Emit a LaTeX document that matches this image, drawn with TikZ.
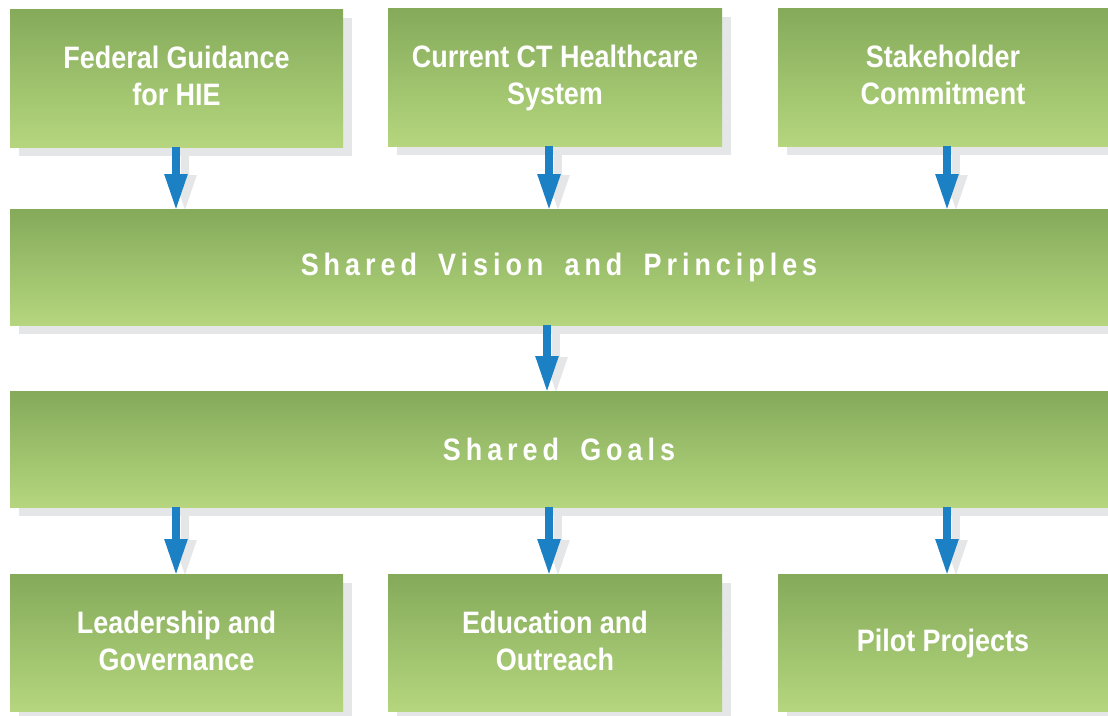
\documentclass[tikz,border=0pt]{standalone}
\usepackage{fontspec}
\setmainfont{Liberation Sans}[FakeStretch=0.87]
\newfontfamily\spacedfont{Liberation Sans}[FakeStretch=0.87,LetterSpace=16,WordSpace=1.7]
\usetikzlibrary{arrows.meta,shadows,backgrounds}
\definecolor{boxtop}{HTML}{84AA5A}
\definecolor{boxbottom}{HTML}{B5D67E}
\definecolor{shadowgray}{HTML}{E5E6E8}
\definecolor{arrowblue}{HTML}{1B80C4}
\tikzset{
  box/.style={rectangle, inner sep=0pt, outer sep=0pt, top color=boxtop, bottom color=boxbottom,
    text=white, align=center, font=\bfseries\fontsize{31}{37}\selectfont,
    drop shadow={shadow xshift=9pt, shadow yshift=-9pt, fill=shadowgray, opacity=1}},
  smallbox/.style={box, minimum width=333pt, minimum height=138pt, text depth=4pt},
  widebox/.style={box, minimum width=1098pt, minimum height=116pt,
    font=\spacedfont\bfseries\fontsize{31}{36}\selectfont},
  flow/.style={line width=8pt, -{Triangle[length=37pt,width=21pt]}},
  flowarrow/.style={flow, arrowblue},
  flowshadow/.style={flow, shadowgray}
}
\begin{document}
\begin{tikzpicture}[x=1pt,y=-1pt]
  \useasboundingbox (0,0) rectangle (1108,715);
  \draw
    (176.5,78) node[smallbox] (fed) {Federal Guidance\\for HIE}
    (555,77) node[smallbox, minimum width=334pt] (cur) {Current CT Healthcare\\System}
    (943,77) node[smallbox, minimum width=330pt] (stake) {Stakeholder\\Commitment}
    (559,267) node[widebox] (vision) {Shared Vision and Principles}
    (559,449) node[widebox] (goals) {Shared Goals}
    (176.5,642.5) node[smallbox, minimum height=137pt] (lead) {Leadership and\\Governance}
    (555,642.5) node[smallbox, minimum width=334pt, minimum height=137pt] (edu) {Education and\\Outreach}
    (943,642.5) node[smallbox, minimum width=330pt, minimum height=137pt] (pilot) {Pilot Projects};
  \begin{scope}[on background layer]
    \draw[flowshadow] ([xshift=9pt]fed.south -| 176,0) to ([shift={(9pt,-3pt)}]vision.north -| 176,0);
    \draw[flowshadow] ([xshift=9pt]cur.south -| 549,0) to ([shift={(9pt,-3pt)}]vision.north -| 549,0);
    \draw[flowshadow] ([xshift=9pt]stake.south -| 947,0) to ([shift={(9pt,-3pt)}]vision.north -| 947,0);
    \draw[flowshadow] ([xshift=9pt]vision.south -| 547,0) to ([shift={(9pt,-3pt)}]goals.north -| 547,0);
    \draw[flowshadow] ([xshift=9pt]goals.south -| 176,0) to ([shift={(9pt,-3pt)}]lead.north -| 176,0);
    \draw[flowshadow] ([xshift=9pt]goals.south -| 549,0) to ([shift={(9pt,-3pt)}]edu.north -| 549,0);
    \draw[flowshadow] ([xshift=9pt]goals.south -| 947,0) to ([shift={(9pt,-3pt)}]pilot.north -| 947,0);
  \end{scope}
  \begin{scope}[flowarrow]
    \draw (fed.south -| 176,0) to ([yshift=-2pt]vision.north -| 176,0);
    \draw (cur.south -| 549,0) to ([yshift=-2pt]vision.north -| 549,0);
    \draw (stake.south -| 947,0) to ([yshift=-2pt]vision.north -| 947,0);
    \draw (vision.south -| 547,0) to ([yshift=-2pt]goals.north -| 547,0);
    \draw (goals.south -| 176,0) to ([yshift=-2pt]lead.north -| 176,0);
    \draw (goals.south -| 549,0) to ([yshift=-2pt]edu.north -| 549,0);
    \draw (goals.south -| 947,0) to ([yshift=-2pt]pilot.north -| 947,0);
  \end{scope}
\end{tikzpicture}
\end{document}
